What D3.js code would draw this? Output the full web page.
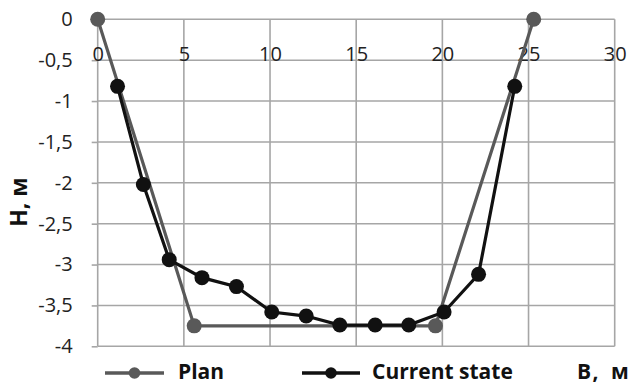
<!DOCTYPE html>
<html>
<head>
<meta charset="utf-8">
<script src="https://cdn.jsdelivr.net/npm/d3@7"></script>
<style>
  html, body { margin: 0; padding: 0; background: #fff; }
  svg { display: block; font-family: "Open Sans", sans-serif; }
</style>
</head>
<body>
<svg id="chart" width="638" height="385"></svg>
<script>
// Cross-section of the channel: width B (m) versus depth H (m)
const planB = [0, 5.6, 19.6, 25.3];
const planH = [0, -3.75, -3.75, 0];

const currentB = [1.15, 2.65, 4.15, 6.05, 8.05, 10.1, 12.1, 14.05, 16.1, 18.05, 20.1, 22.1, 24.2];
const currentH = [-0.82, -2.02, -2.94, -3.16, -3.27, -3.58, -3.63, -3.74, -3.74, -3.74, -3.58, -3.12, -0.82];

const xTicks = [0, 5, 10, 15, 20, 25, 30];
const yTicks = [0, -0.5, -1, -1.5, -2, -2.5, -3, -3.5, -4];

const seriesNames = ["Plan", "Current state"];
const xTitle = "B, м";
const yTitle = "H, м";

const plan = planB.map((b, i) => ({ b, h: planH[i] }));
const current = currentB.map((b, i) => ({ b, h: currentH[i] }));

const svg = d3.select("#chart");
const x = d3.scaleLinear().domain([0, 30]).range([97.7, 614.7]);
const y = d3.scaleLinear().domain([-4, 0]).range([346.3, 19.3]);

const locale = d3.formatLocale({ decimal: ",", thousands: " ", grouping: [3], currency: ["", ""], minus: "-" });
const fmt = locale.format("~g");

const gridColor = "#a6a6a6";

// grid
const grid = svg.append("g");
grid.selectAll("line.v").data(xTicks).join("line")
  .attr("x1", d => x(d)).attr("x2", d => x(d))
  .attr("y1", y(0)).attr("y2", y(-4))
  .attr("stroke", gridColor).attr("stroke-width", 1.6);
grid.selectAll("line.h").data(yTicks).join("line")
  .attr("x1", x(0)).attr("x2", x(30))
  .attr("y1", d => y(d)).attr("y2", d => y(d))
  .attr("stroke", gridColor).attr("stroke-width", 1.6);

// y axis (left), ticks pointing outwards
const yAxis = svg.append("g")
  .attr("transform", `translate(${x(0)},0)`)
  .call(d3.axisLeft(y).tickValues(yTicks).tickFormat(fmt).tickSizeInner(6).tickSizeOuter(0).tickPadding(19));
yAxis.select(".domain").remove();
yAxis.selectAll(".tick line").attr("stroke", gridColor).attr("stroke-width", 1.6);
yAxis.selectAll(".tick text").attr("font-size", 20).attr("fill", "#222")
  .attr("font-family", "Open Sans, sans-serif");

// x axis along the zero line, labels just below it
const xAxis = svg.append("g")
  .attr("transform", `translate(0,${y(0)})`)
  .call(d3.axisBottom(x).tickValues(xTicks).tickFormat(fmt).tickSize(0));
xAxis.select(".domain").remove();
xAxis.selectAll(".tick text").attr("font-size", 20).attr("fill", "#222")
  .attr("font-family", "Open Sans, sans-serif")
  .attr("y", 34.7).attr("dy", "0.35em");

const line = d3.line().x(d => x(d.b)).y(d => y(d.h));

const planColor = "#595959";
const curColor = "#111111";

// plan profile
svg.append("path").datum(plan).attr("d", line)
  .attr("fill", "none").attr("stroke", planColor).attr("stroke-width", 3.2);
svg.append("g").selectAll("circle").data(plan).join("circle")
  .attr("cx", d => x(d.b)).attr("cy", d => y(d.h)).attr("r", 7.5)
  .attr("fill", planColor);

// current profile
svg.append("path").datum(current).attr("d", line)
  .attr("fill", "none").attr("stroke", curColor).attr("stroke-width", 3.2);
svg.append("g").selectAll("circle").data(current).join("circle")
  .attr("cx", d => x(d.b)).attr("cy", d => y(d.h)).attr("r", 7.5)
  .attr("fill", curColor);

// legend
const legend = [
  { name: seriesNames[0], color: planColor, x1: 105, x2: 164, tx: 178 },
  { name: seriesNames[1], color: curColor, x1: 302, x2: 360, tx: 372 }
];
const lg = svg.append("g");
legend.forEach(l => {
  lg.append("line").attr("x1", l.x1).attr("x2", l.x2).attr("y1", 373).attr("y2", 373)
    .attr("stroke", l.color).attr("stroke-width", 3.6);
  lg.append("circle").attr("cx", (l.x1 + l.x2) / 2).attr("cy", 373).attr("r", 5.8).attr("fill", l.color);
  lg.append("text").attr("x", l.tx).attr("y", 379).attr("font-size", 21).attr("font-weight", 700)
    .attr("fill", "#111").text(l.name);
});

// axis titles
svg.append("text").attr("x", 577).attr("y", 379).attr("font-size", 21).attr("font-weight", 700)
  .attr("fill", "#111").attr("letter-spacing", 1.5).attr("word-spacing", 4).text(xTitle);
svg.append("text").attr("transform", "translate(27,202) rotate(-90)")
  .attr("text-anchor", "middle").attr("font-size", 23).attr("font-weight", 700)
  .attr("fill", "#111").text(yTitle);
</script>
</body>
</html>
